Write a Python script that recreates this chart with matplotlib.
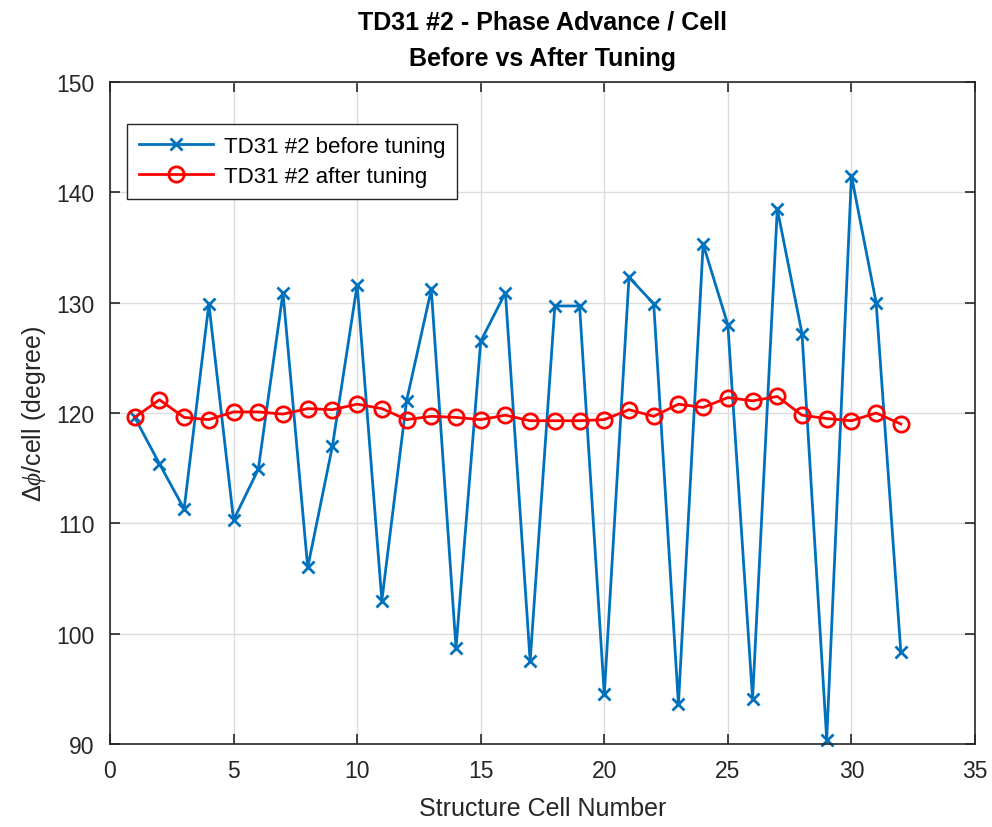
import matplotlib
matplotlib.use('Agg')
import matplotlib.pyplot as plt
import numpy as np

plt.rcParams['font.family'] = ['Liberation Sans', 'DejaVu Sans']
plt.rcParams['mathtext.fontset'] = 'custom'
plt.rcParams['mathtext.rm'] = 'Liberation Sans'
plt.rcParams['mathtext.it'] = 'Liberation Serif:italic'

cells = np.arange(1, 33)
before = [119.6, 115.4, 111.3, 129.9, 110.3, 114.9, 130.9, 106.0, 117.0, 131.6,
          103.0, 121.1, 131.2, 98.7, 126.5, 130.9, 97.5, 129.7, 129.7, 94.5,
          132.3, 129.9, 93.6, 135.3, 128.0, 94.1, 138.5, 127.2, 90.4, 141.5,
          130.0, 98.3]
after = [119.6, 121.2, 119.6, 119.4, 120.1, 120.1, 119.9, 120.4, 120.3, 120.8,
         120.4, 119.4, 119.7, 119.6, 119.4, 119.8, 119.3, 119.3, 119.3, 119.4,
         120.3, 119.7, 120.8, 120.5, 121.4, 121.1, 121.5, 119.8, 119.5, 119.3,
         120.0, 119.0]

fig = plt.figure(figsize=(9.92, 8.28), dpi=100)
ax = fig.add_axes([110/992, 1-745/828, (975-110)/992, (745-83)/828])

ax.plot(cells, before, color='#0072BD', marker='x', markersize=9, mew=2,
        linewidth=2, label='TD31 #2 before tuning', clip_on=False)
ax.plot(cells, after, color='#FF0000', marker='o', markersize=11, mew=2,
        markerfacecolor='none', linewidth=2, label='TD31 #2 after tuning')

ax.set_xlim(0, 35)
ax.set_ylim(90, 150)
ax.set_xticks(range(0, 36, 5))
ax.set_yticks(range(90, 151, 10))
ax.grid(True, color='#dcdcdc', linewidth=1)
ax.set_axisbelow(True)
ax.tick_params(direction='in', length=7, width=1.2, labelsize=16.5,
               top=True, right=True, colors='#262626', pad=11)
for s in ax.spines.values():
    s.set_linewidth(1.2)
    s.set_color('#262626')

ax.set_xlabel('Structure Cell Number', fontsize=18, color='#262626', labelpad=10)
ax.set_ylabel(r'$\Delta\mathit{\phi}$/cell (degree)', fontsize=18, color='#262626',
              labelpad=6)
ax.set_title('TD31 #2 - Phase Advance / Cell\nBefore vs After Tuning',
             fontsize=18, fontweight='bold', pad=12, linespacing=1.65)

leg = ax.legend(loc='upper left', bbox_to_anchor=(0.0197, 0.937), fontsize=16,
                fancybox=False, edgecolor='#262626', framealpha=1,
                handlelength=3.3, handletextpad=0.5, borderpad=0.55,
                labelspacing=0.4, borderaxespad=0)
leg.get_frame().set_linewidth(1)

fig.savefig('out.png', dpi=100)
